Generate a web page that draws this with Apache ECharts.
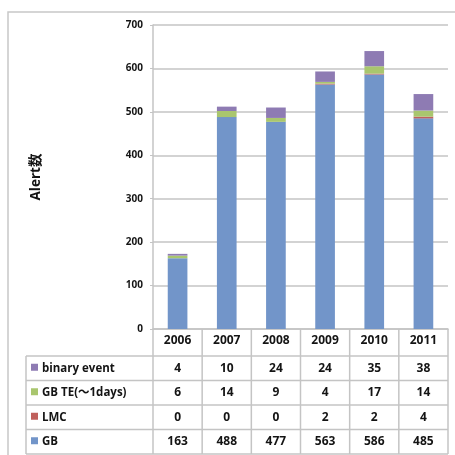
<!DOCTYPE html>
<html>
<head>
<meta charset="utf-8">
<script src="https://cdn.jsdelivr.net/npm/echarts@6/dist/echarts.min.js"></script>
<style>
  html, body { margin: 0; padding: 0; background: #fff; }
  #chart { width: 455px; height: 455px; }
</style>
</head>
<body>
<div id="chart"></div>
<script>
// Yearly alert counts, stacked by type
const years = ['2006', '2007', '2008', '2009', '2010', '2011'];
const gb = [163, 488, 477, 563, 586, 485];
const lmc = [0, 0, 0, 2, 2, 4];
const gbTe = [6, 14, 9, 4, 17, 14];
const binaryEvent = [4, 10, 24, 24, 35, 38];

const seriesDefs = [
  { name: 'GB', data: gb, color: '#7295C9' },
  { name: 'LMC', data: lmc, color: '#C0605C' },
  { name: 'GB TE(〜1days)', data: gbTe, color: '#A9C66E' },
  { name: 'binary event', data: binaryEvent, color: '#8E7BB3' }
];
// table rows listed top to bottom
const tableRows = [seriesDefs[3], seriesDefs[2], seriesDefs[1], seriesDefs[0]];

const FONT = '"Open Sans", "Noto Sans", "Noto Sans CJK JP", sans-serif';
const LINE = '#C4C4C4';
const TXT = '#141414';

const chart = echarts.init(document.getElementById('chart'), null, { renderer: 'canvas' });

const option = {
  animation: false,
  backgroundColor: '#fff',
  grid: { left: 153, right: 7, top: 25, bottom: 126, containLabel: false },
  xAxis: {
    type: 'category',
    data: years,
    axisLine: { show: true, lineStyle: { color: LINE, width: 1.5 } },
    axisTick: { show: false },
    axisLabel: {
      show: true, margin: 6, color: TXT, fontSize: 12,
      fontWeight: 'bold', fontFamily: FONT, verticalAlign: 'top'
    }
  },
  yAxis: {
    type: 'value',
    min: 0, max: 700, interval: 100,
    name: 'Alert数',
    nameLocation: 'middle',
    nameGap: 110,
    nameRotate: 90,
    nameTextStyle: { fontSize: 13.5, fontWeight: 'bold', color: TXT, fontFamily: FONT },
    axisLine: { show: true, lineStyle: { color: LINE, width: 1.5 } },
    axisTick: { show: true, length: 3, lineStyle: { color: LINE } },
    splitLine: { show: true, lineStyle: { color: LINE, width: 1.5 } },
    axisLabel: { margin: 10, color: TXT, fontSize: 10, fontWeight: 'bold', fontFamily: FONT }
  },
  series: seriesDefs.map(s => ({
    name: s.name,
    type: 'bar',
    stack: 'total',
    barWidth: '40%',
    data: s.data,
    itemStyle: { color: s.color }
  }))
};
chart.setOption(option);

// Data table under the plot, aligned to the category bands
function buildTable() {
  const graphics = [];
  const x0 = chart.convertToPixel({ xAxisIndex: 0 }, 0);
  const x1 = chart.convertToPixel({ xAxisIndex: 0 }, 1);
  const band = x1 - x0;
  const leftEdge = x0 - band / 2;
  const rightEdge = leftEdge + band * years.length;
  const axisY = chart.convertToPixel({ yAxisIndex: 0 }, 0);
  const headerH = 27;
  const rowH = 24.5;
  const labelLeft = 26;
  const tableBottom = axisY + headerH + rowH * tableRows.length;

  // outer frame
  graphics.push({
    type: 'rect', shape: { x: 8, y: 12, width: 470, height: 470 },
    style: { fill: null, stroke: '#C8C8C8', lineWidth: 1.5 }, z: 1
  });

  // vertical column boundaries
  for (let i = 0; i <= years.length; i++) {
    const x = leftEdge + band * i;
    graphics.push({
      type: 'line', shape: { x1: x, y1: axisY, x2: x, y2: tableBottom },
      style: { stroke: LINE, lineWidth: 1.5 }
    });
  }
  graphics.push({
    type: 'line', shape: { x1: labelLeft, y1: axisY + headerH, x2: labelLeft, y2: tableBottom },
    style: { stroke: LINE, lineWidth: 1.5 }
  });

  // horizontal row boundaries
  for (let r = 0; r <= tableRows.length; r++) {
    const y = axisY + headerH + rowH * r;
    graphics.push({
      type: 'line', shape: { x1: labelLeft, y1: y, x2: rightEdge, y2: y },
      style: { stroke: LINE, lineWidth: 1.5 }
    });
  }

  tableRows.forEach((row, r) => {
    const cy = axisY + headerH + rowH * r + rowH / 2;
    graphics.push({
      type: 'rect', shape: { x: 31, y: cy - 4.5, width: 7, height: 7 },
      style: { fill: row.color }
    });
    graphics.push({
      type: 'text', x: 42, y: cy,
      style: {
        text: row.name, fill: TXT, font: 'bold 11.5px ' + FONT,
        textAlign: 'left', textVerticalAlign: 'middle'
      }
    });
    row.data.forEach((v, i) => {
      graphics.push({
        type: 'text', x: chart.convertToPixel({ xAxisIndex: 0 }, i), y: cy,
        style: {
          text: String(v), fill: TXT, font: 'bold 12px ' + FONT,
          textAlign: 'center', textVerticalAlign: 'middle'
        }
      });
    });
  });

  chart.setOption({ graphic: { elements: graphics } });
}
buildTable();
</script>
</body>
</html>
